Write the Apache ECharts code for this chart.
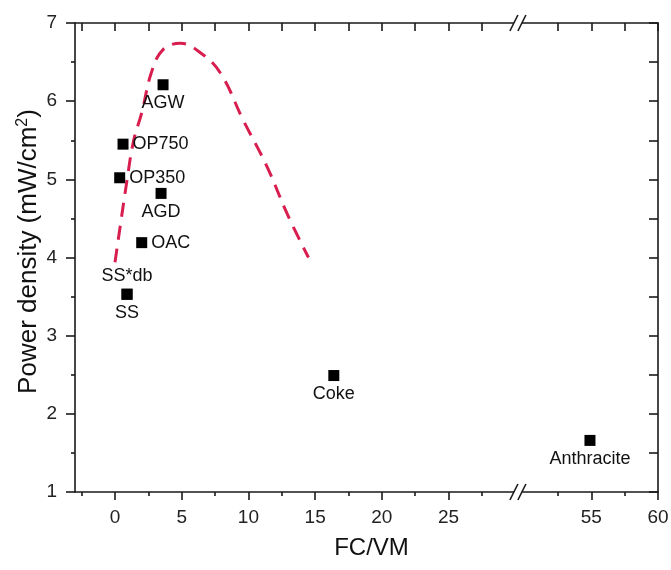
<!DOCTYPE html>
<html>
<head>
<meta charset="utf-8">
<script src="https://cdn.jsdelivr.net/npm/echarts@6.0.0/dist/echarts.min.js"></script>
<style>html,body{margin:0;background:#fff}#chart{width:671px;height:570px}</style>
</head>
<body>
<div id="chart"></div>
<script>
// samples: FC/VM ratio vs power density
var sampleNames = ['AGW', 'OP750', 'OP350', 'AGD', 'OAC', 'SS*db', 'SS', 'Coke', 'Anthracite'];
var fcvm = [3.6, 0.6, 0.35, 3.45, 2.0, 0.9, 0.9, 16.4, 54.9];
var power = [6.21, 5.45, 5.02, 4.82, 4.19, 3.53, 3.53, 2.49, 1.66];
var labelSide = ['bottom', 'right', 'right', 'bottom', 'right', 'top', 'bottom', 'bottom', 'bottom'];

// dashed guide curve
var trendX = [0, 0.9, 1.4, 2.0, 2.75, 3.6, 4.9, 6.4, 7.9, 9.6, 11.4, 12.9, 14.5];
var trendY = [3.94, 4.99, 5.5, 5.85, 6.38, 6.66, 6.74, 6.62, 6.36, 5.76, 5.16, 4.56, 4.0];

var xMajor = [0, 5, 10, 15, 20, 25, 55, 60];
var xMinor = [-2.5, 2.5, 7.5, 12.5, 17.5, 22.5, 27.5, 52.5, 57.5];
var xAll = [-2.5, 0, 2.5, 5, 7.5, 10, 12.5, 15, 17.5, 20, 22.5, 25, 27.5, 52.5, 55, 57.5, 60];
var breakFrom = 30.2, breakTo = 49.5;

var myChart = echarts.init(document.getElementById('chart'));

var axisColor = '#1a1a1a';
var font = 'Liberation Sans, Arial, sans-serif';
var brk = [{start: breakFrom, end: breakTo, gap: 0}];

var scatterData = fcvm.map(function (x, i) {
	return {
		value: [x, power[i]],
		name: sampleNames[i],
		label: {position: labelSide[i]}
	};
});

option = {
	backgroundColor: '#fff',
	animation: false,
	grid: {left: 75, right: 13, top: 23, bottom: 78, outerBoundsMode: 'none', containLabel: false},
	xAxis: [
		{
			type: 'value', min: -3, max: 60, breaks: brk,
			breakArea: {show: false},
			name: 'FC/VM', nameLocation: 'middle', nameGap: 44, nameMoveOverlap: false,
			nameTextStyle: {fontSize: 24, color: '#111', fontFamily: font, padding: [0, 0, 0, 10]},
			axisLine: {onZero: false, lineStyle: {color: axisColor, width: 1.6}},
			axisTick: {show: true, length: 8, customValues: xMajor, lineStyle: {color: axisColor, width: 1.6}},
			axisLabel: {customValues: xMajor, fontSize: 19, color: '#222', margin: 16, fontFamily: font},
			splitLine: {show: false}
		},
		{
			type: 'value', min: -3, max: 60, breaks: brk, position: 'top',
			breakArea: {show: false},
			axisLine: {onZero: false, lineStyle: {color: axisColor, width: 1.6}},
			axisTick: {inside: true, length: 8, customValues: xAll, lineStyle: {color: axisColor, width: 1.6}},
			axisLabel: {show: false},
			splitLine: {show: false}
		},
		{
			type: 'value', min: -3, max: 60, breaks: brk, position: 'bottom',
			breakArea: {show: false},
			axisLine: {show: false, onZero: false},
			axisTick: {length: 4, customValues: xMinor, lineStyle: {color: axisColor, width: 1.6}},
			axisLabel: {show: false},
			splitLine: {show: false}
		}
	],
	yAxis: [
		{
			type: 'value', min: 1, max: 7, interval: 1,
			name: 'Power density (mW/cm{sup|2})', nameLocation: 'middle', nameGap: 32, nameMoveOverlap: false,
			nameTextStyle: {
				fontSize: 26, color: '#111', fontFamily: font, padding: [0, 0, 0, 12],
				rich: {sup: {fontSize: 16, color: '#111', fontFamily: font, padding: [0, 0, 12, 0]}}
			},
			axisLine: {show: true, onZero: false, lineStyle: {color: axisColor, width: 1.6}},
			axisTick: {show: true, length: 9, lineStyle: {color: axisColor, width: 1.6}},
			minorTick: {show: true, splitNumber: 2, length: 4, lineStyle: {color: axisColor, width: 1.6}},
			axisLabel: {fontSize: 19, color: '#222', margin: 18, fontFamily: font},
			splitLine: {show: false}
		},
		{
			type: 'value', min: 1, max: 7, interval: 0.5, position: 'right',
			axisLine: {show: true, onZero: false, lineStyle: {color: axisColor, width: 1.6}},
			axisTick: {show: true, inside: true, length: 9, lineStyle: {color: axisColor, width: 1.6}},
			axisLabel: {show: false},
			splitLine: {show: false}
		}
	],
	series: [
		{
			type: 'line',
			data: trendX.map(function (x, i) { return [x, trendY[i]]; }),
			smooth: 0.4,
			symbol: 'none',
			lineStyle: {color: '#d81e4f', width: 3, type: [14, 9]},
			z: 2
		},
		{
			type: 'scatter',
			data: scatterData,
			symbol: 'rect',
			symbolSize: 11,
			itemStyle: {color: '#000', opacity: 1},
			label: {
				show: true, formatter: '{b}', fontSize: 18, color: '#111',
				fontFamily: font, distance: 4
			},
			z: 3
		}
	]
};

myChart.setOption(option);

// axis break marks "//" on top and bottom edges
var bx = myChart.convertToPixel({xAxisIndex: 0}, breakFrom);
var yTop = myChart.convertToPixel({yAxisIndex: 0}, 7);
var yBot = myChart.convertToPixel({yAxisIndex: 0}, 1);
var marks = [];
[yTop, yBot].forEach(function (yy) {
	marks.push({type: 'rect', shape: {x: bx - 4, y: yy - 3, width: 8, height: 6}, style: {fill: '#fff'}, z: 100});
	[-4, 4].forEach(function (dx) {
		marks.push({
			type: 'line',
			shape: {x1: bx + dx - 4, y1: yy + 8, x2: bx + dx + 4, y2: yy - 8},
			style: {stroke: axisColor, lineWidth: 1.6},
			z: 101
		});
	});
});
myChart.setOption({graphic: marks});
</script>
</body>
</html>
